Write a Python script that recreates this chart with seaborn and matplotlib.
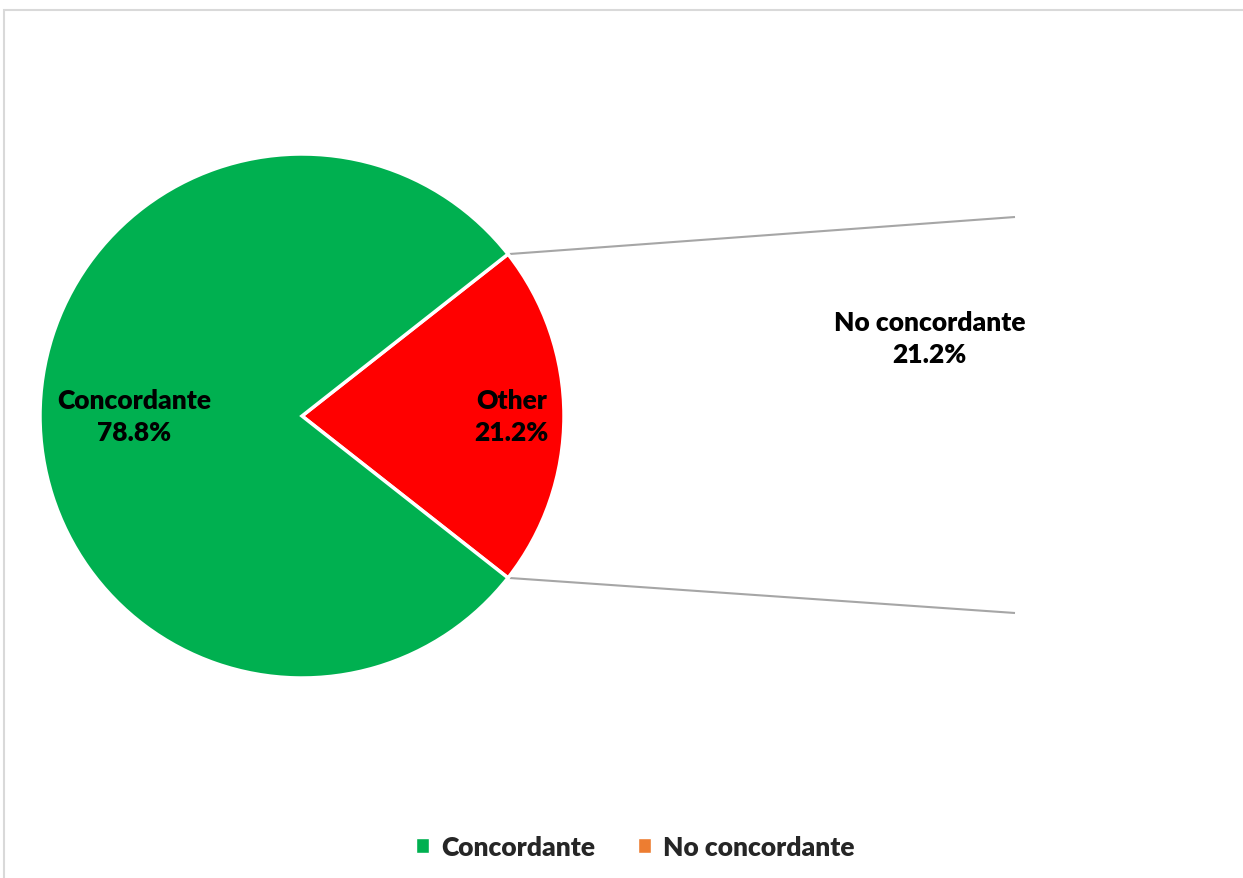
import numpy as np
import matplotlib
matplotlib.use("Agg")
import matplotlib.pyplot as plt
from matplotlib.patches import Rectangle, Patch
import seaborn as sns

# Survey agreement breakdown
categories = ["Concordante", "No concordante"]
values = [78.8, 21.2]
main_labels = ["Concordante", "Other"]
secondary_labels = ["No concordante"]

GREEN = "#00B050"
RED = "#FF0000"
ORANGE = "#ED7D31"

sns.set_theme(style="white")
plt.rcParams["font.family"] = ["Lato", "DejaVu Sans"]

FS = 19

W, H = 1243, 879
fig = plt.figure(figsize=(W / 100, H / 100), dpi=100)
ax = fig.add_axes([0, 0, 1, 1])

# Main pie: first category plus the "Other" group that is split out
main_vals = [values[0], sum(values[1:])]
main_center = (302, 417)
main_r = 262
other_span = 360 * main_vals[1] / sum(main_vals)
start = -other_span / 2  # "Other" wedge centred on the right-hand side
wedges, _ = ax.pie(
    main_vals[::-1],
    colors=[RED, GREEN],
    startangle=start,
    center=main_center,
    radius=main_r,
    wedgeprops=dict(edgecolor="white", linewidth=2.5),
    frame=True,
)

# Labels inside the main pie
pcts = [values[0], sum(values[1:])]
dists = [0.64, 0.80]
mid_angles = [180.0, 0.0]
for lab, pct, d, a in zip(main_labels, pcts, dists, mid_angles):
    x = main_center[0] + d * main_r * np.cos(np.radians(a))
    y = main_center[1] - d * main_r * np.sin(np.radians(a))
    ax.text(x, y, f"{lab}\n{pct:.1f}%", ha="center", va="center",
            fontsize=FS, fontweight="heavy", color="black", linespacing=1.4)

# Secondary pie (no fill) holding the split-out category
sec_center = (1015, 416)
sec_r = 198
ax.pie([values[1]], colors=["none"], center=sec_center, radius=sec_r,
       wedgeprops=dict(edgecolor="none", linewidth=0), frame=True)
lab_ang = np.radians(138)
lx = sec_center[0] + 0.58 * sec_r * np.cos(lab_ang)
ly = sec_center[1] - 0.58 * sec_r * np.sin(lab_ang)
ax.text(lx, ly, f"{secondary_labels[0]}\n{values[1]:.1f}%", ha="center",
        va="center", fontsize=FS, fontweight="heavy", color="black",
        linespacing=1.4)

# Connector lines from the "Other" wedge edges to the secondary pie
half = np.radians(other_span / 2)
for sgn in (1, -1):
    x0 = main_center[0] + main_r * np.cos(half)
    y0 = main_center[1] - sgn * main_r * np.sin(half)
    x1 = sec_center[0]
    y1 = sec_center[1] - sgn * sec_r
    ax.plot([x0, x1], [y0, y1], color="#A6A6A6", linewidth=1.5,
            solid_capstyle="butt", zorder=0)

ax.set_xlim(0, W)
ax.set_ylim(H, 0)
ax.set_aspect("equal")
ax.axis("off")

# Chart area border
fig.patches.append(Rectangle((4 / W, -0.1), 1.2, (H - 11) / H + 0.1,
                             transform=fig.transFigure, fill=False,
                             edgecolor="#D9D9D9", linewidth=1.5))

# Legend
handles = [Patch(facecolor=GREEN, label=categories[0]),
           Patch(facecolor=ORANGE, label=categories[1])]
fig.legend(handles=handles, loc="center", bbox_to_anchor=(0.511, 1 - 848 / H),
           ncol=2, frameon=False, handlelength=0.5, handleheight=0.5,
           handletextpad=0.45, columnspacing=1.6,
           prop=dict(size=FS, weight="heavy"))

fig.savefig("out.png", dpi=100)
